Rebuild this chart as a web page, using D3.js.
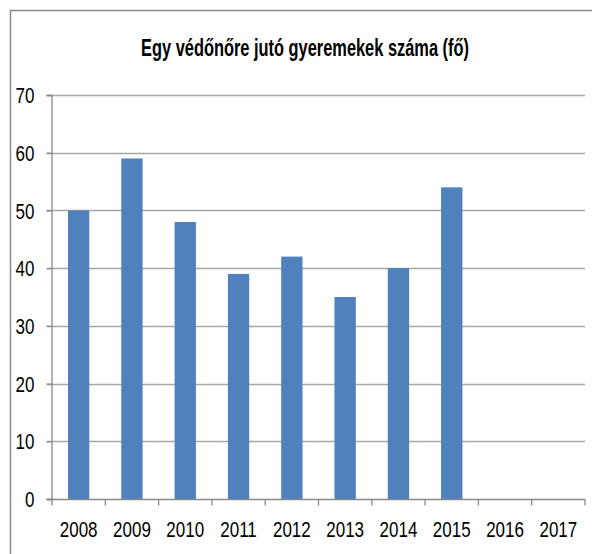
<!DOCTYPE html>
<html>
<head>
<meta charset="utf-8">
<script src="https://cdn.jsdelivr.net/npm/d3@7"></script>
<style>
  body { margin: 0; background: #fff; }
  text { font-family: "Liberation Sans Narrow", "Liberation Sans", sans-serif; fill: #000; }
</style>
</head>
<body>
<div id="chart"></div>
<script>
// data
let title = 'Egy védőnőre jutó gyeremekek száma (fő)';
let years = ['2008', '2009', '2010', '2011', '2012', '2013', '2014', '2015', '2016', '2017'];
let values = [50, 59, 48, 39, 42, 35, 40, 54, null, null];
let yTicks = [0, 10, 20, 30, 40, 50, 60, 70];

let width = 592, height = 554;
let margin = { top: 95, right: 7, bottom: 55, left: 52 };

let svg = d3.select('#chart').append('svg')
    .attr('width', width)
    .attr('height', height);

// outer chart border (cropped on right and bottom)
svg.append('path')
    .attr('d', 'M10.5,' + height + 'V10.5H' + width)
    .attr('fill', 'none')
    .attr('stroke', '#8c8c8c')
    .attr('stroke-width', 1.5);

let x = d3.scaleBand()
    .domain(years)
    .range([margin.left, width - margin.right])
    .paddingInner(0.6)
    .paddingOuter(0.3);

let y = d3.scaleLinear()
    .domain([0, 70])
    .range([height - margin.bottom, margin.top]);

// gridlines
svg.append('g')
    .selectAll('line')
    .data(yTicks.filter(t => t > 0))
    .enter().append('line')
    .attr('x1', margin.left - 5)
    .attr('x2', width - margin.right)
    .attr('y1', t => Math.round(y(t)) + 0.5)
    .attr('y2', t => Math.round(y(t)) + 0.5)
    .attr('stroke', '#a6a6a6')
    .attr('stroke-width', 1.3);

// bars
svg.append('g')
    .selectAll('rect')
    .data(years.map((yr, i) => ({ year: yr, value: values[i] })).filter(d => d.value != null))
    .enter().append('rect')
    .attr('x', d => x(d.year))
    .attr('width', x.bandwidth())
    .attr('y', d => y(d.value))
    .attr('height', d => y(0) - y(d.value))
    .attr('fill', '#4f81bd');

// y axis
let yAxis = svg.append('g')
    .attr('transform', 'translate(' + (margin.left - 0.5) + ',0)')
    .call(d3.axisLeft(y).tickValues(yTicks).tickSize(5).tickPadding(12).tickFormat(d3.format('d')));
yAxis.selectAll('path, line').attr('stroke', '#888').attr('stroke-width', 1.3);
// labels stretched vertically like the source
yAxis.selectAll('.tick text')
    .attr('font-size', 17)
    .attr('font-family', '"Liberation Sans Narrow", sans-serif')
    .attr('y', 0)
    .attr('dy', '0.36em')
    .attr('transform', 'scale(1,1.25)');

// x axis, ticks at band boundaries
let xAxis = svg.append('g')
    .attr('transform', 'translate(0,' + (y(0) + 0.5) + ')');
xAxis.append('line')
    .attr('x1', margin.left - 5)
    .attr('x2', width - margin.right)
    .attr('stroke', '#888')
    .attr('stroke-width', 1.3);
let slot = (width - margin.right - margin.left) / years.length;
xAxis.selectAll('.tk')
    .data(d3.range(years.length + 1))
    .enter().append('line')
    .attr('x1', i => margin.left + i * slot)
    .attr('x2', i => margin.left + i * slot)
    .attr('y1', 0)
    .attr('y2', 6)
    .attr('stroke', '#888')
    .attr('stroke-width', 1.3);
xAxis.selectAll('.lbl')
    .data(years)
    .enter().append('text')
    .attr('text-anchor', 'middle')
    .attr('font-size', 17)
    .attr('transform', d => 'translate(' + (x(d) + x.bandwidth() / 2) + ',37) scale(1,1.25)')
    .text(d => d);

// title
let titleText = svg.append('text')
    .attr('text-anchor', 'middle')
    .attr('font-size', 23)
    .attr('font-weight', 'bold')
    .text(title);
let tw = titleText.node().getComputedTextLength();
titleText.attr('transform', 'translate(305,56) scale(' + (328 / tw) + ',1)');
</script>
</body>
</html>
